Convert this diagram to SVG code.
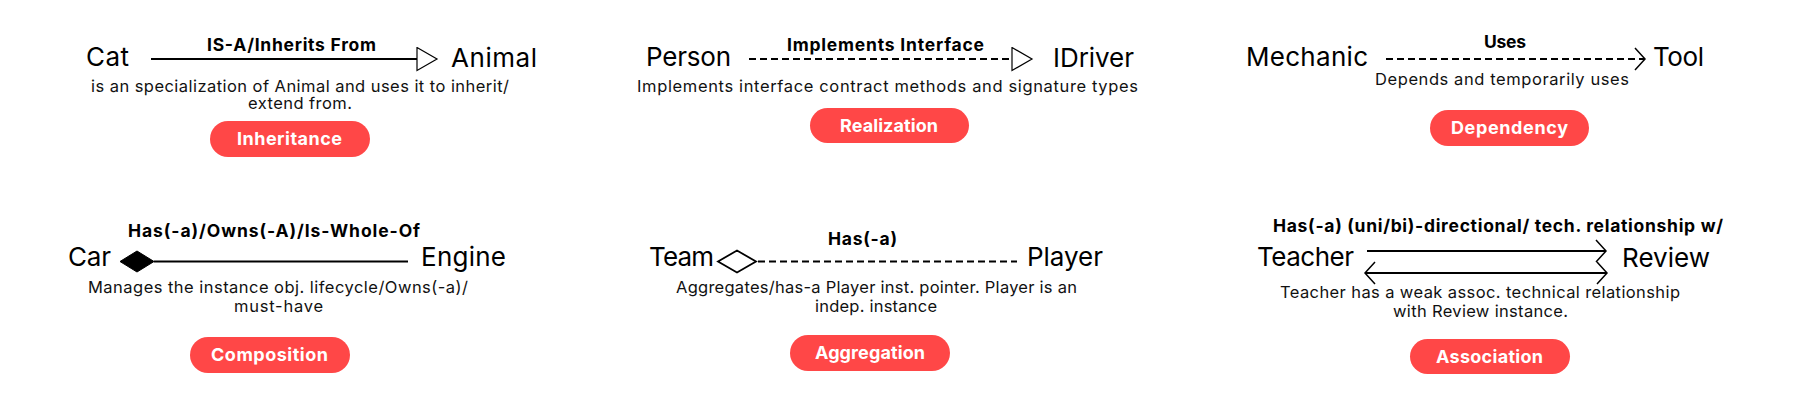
<svg xmlns="http://www.w3.org/2000/svg" width="1800" height="400" viewBox="0 0 1800 400">
<defs>
<style>
.node{font-family:Inter,"DejaVu Sans",sans-serif;font-size:26px;fill:#000}
.lbl{font-family:Inter,"DejaVu Sans",sans-serif;font-size:17.5px;font-weight:700;fill:#000;text-anchor:middle}
.desc{font-family:Inter,"DejaVu Sans",sans-serif;font-size:16.5px;fill:#111;text-anchor:middle}
.pill{fill:#FF4747}
.pilltxt{font-family:Inter,"DejaVu Sans",sans-serif;font-size:18px;font-weight:700;fill:#fff;text-anchor:middle}
.ln{stroke:#000;stroke-width:2;fill:none}
.dash{stroke-dasharray:7 4}
</style>
<marker id="tri" markerUnits="userSpaceOnUse" markerWidth="24" markerHeight="26" refX="1" refY="12.5" orient="auto">
<path d="M1,1 L21,12.5 L1,24 Z" fill="#fff" stroke="#000" stroke-width="1.2"/>
</marker>
<marker id="chev" markerUnits="userSpaceOnUse" markerWidth="14" markerHeight="26" refX="12" refY="12" orient="auto-start-reverse">
<path d="M2,1 L12,12 L2,23" fill="none" stroke="#000" stroke-width="1.5"/>
</marker>
</defs>
<rect width="1800" height="400" fill="#fff"/>

<g id="connectors">
<line class="ln" x1="151" y1="59" x2="417" y2="59" marker-end="url(#tri)"/>
<line class="ln dash" x1="749" y1="59" x2="1012" y2="59" marker-end="url(#tri)"/>
<line class="ln dash" x1="1386" y1="59" x2="1645" y2="59" marker-end="url(#chev)"/>
<polygon points="120,261.5 137,251 154,261.5 137,272" fill="#000" stroke="#000" stroke-width="1"/>
<line class="ln" x1="154" y1="261.5" x2="408" y2="261.5"/>
<polygon points="718,261.5 737,250.5 756,261.5 737,272.5" fill="#fff" stroke="#000" stroke-width="1.8"/>
<line class="ln dash" x1="758" y1="261.5" x2="1017" y2="261.5"/>
<line class="ln" x1="1367" y1="251" x2="1606" y2="251" marker-end="url(#chev)"/>
<line class="ln" x1="1365" y1="273" x2="1607" y2="273" marker-start="url(#chev)" marker-end="url(#chev)"/>
</g>

<g id="inheritance">
<text class="node" x="86" y="66" textLength="43">Cat</text>
<text class="node" x="451" y="67" textLength="86">Animal</text>
<text class="lbl" x="291.5" y="51" textLength="169">IS-A/Inherits From</text>
<text class="desc" x="300" y="92" textLength="418">is an specialization of Animal and uses it to inherit/</text>
<text class="desc" x="300" y="108.5" textLength="104">extend from.</text>
<rect class="pill" x="210" y="121" width="160" height="36" rx="18"/>
<text class="pilltxt" x="289.5" y="145" textLength="105">Inheritance</text>
</g>

<g id="realization">
<text class="node" x="646" y="66" textLength="85">Person</text>
<text class="node" x="1053" y="67" textLength="81">IDriver</text>
<text class="lbl" x="885.5" y="51" textLength="197">Implements Interface</text>
<text class="desc" x="887.5" y="92" textLength="501">Implements interface contract methods and signature types</text>
<rect class="pill" x="810" y="108" width="159" height="35" rx="17.5"/>
<text class="pilltxt" x="889" y="132" textLength="98">Realization</text>
</g>

<g id="dependency">
<text class="node" x="1246" y="66" textLength="122">Mechanic</text>
<text class="node" x="1653" y="66" textLength="51">Tool</text>
<text class="lbl" x="1505" y="48" textLength="42">Uses</text>
<text class="desc" x="1502" y="85" textLength="254">Depends and temporarily uses</text>
<rect class="pill" x="1430" y="110" width="159" height="36" rx="18"/>
<text class="pilltxt" x="1509.5" y="134" textLength="117">Dependency</text>
</g>

<g id="composition">
<text class="node" x="68" y="266" textLength="43">Car</text>
<text class="node" x="421" y="266" textLength="85">Engine</text>
<text class="lbl" x="274" y="237" textLength="292">Has(-a)/Owns(-A)/Is-Whole-Of</text>
<text class="desc" x="278" y="293" textLength="380">Manages the instance obj. lifecycle/Owns(-a)/</text>
<text class="desc" x="278.5" y="312" textLength="89">must-have</text>
<rect class="pill" x="190" y="337" width="160" height="36" rx="18"/>
<text class="pilltxt" x="269.5" y="361" textLength="117">Composition</text>
</g>

<g id="aggregation">
<text class="node" x="649" y="266" textLength="65">Team</text>
<text class="node" x="1027" y="266" textLength="76">Player</text>
<text class="lbl" x="862.5" y="245" textLength="69">Has(-a)</text>
<text class="desc" x="876.5" y="293" textLength="401">Aggregates/has-a Player inst. pointer. Player is an</text>
<text class="desc" x="876" y="312" textLength="122">indep. instance</text>
<rect class="pill" x="790" y="335" width="160" height="36" rx="18"/>
<text class="pilltxt" x="870" y="359" textLength="110">Aggregation</text>
</g>

<g id="association">
<text class="node" x="1257" y="266" textLength="97">Teacher</text>
<text class="node" x="1622" y="267" textLength="88">Review</text>
<text class="lbl" x="1498" y="232" textLength="450">Has(-a) (uni/bi)-directional/ tech. relationship w/</text>
<text class="desc" x="1480" y="298" textLength="400">Teacher has a weak assoc. technical relationship</text>
<text class="desc" x="1480.5" y="317" textLength="175">with Review instance.</text>
<rect class="pill" x="1410" y="339" width="160" height="35" rx="17.5"/>
<text class="pilltxt" x="1489.5" y="363" textLength="107">Association</text>
</g>
</svg>
